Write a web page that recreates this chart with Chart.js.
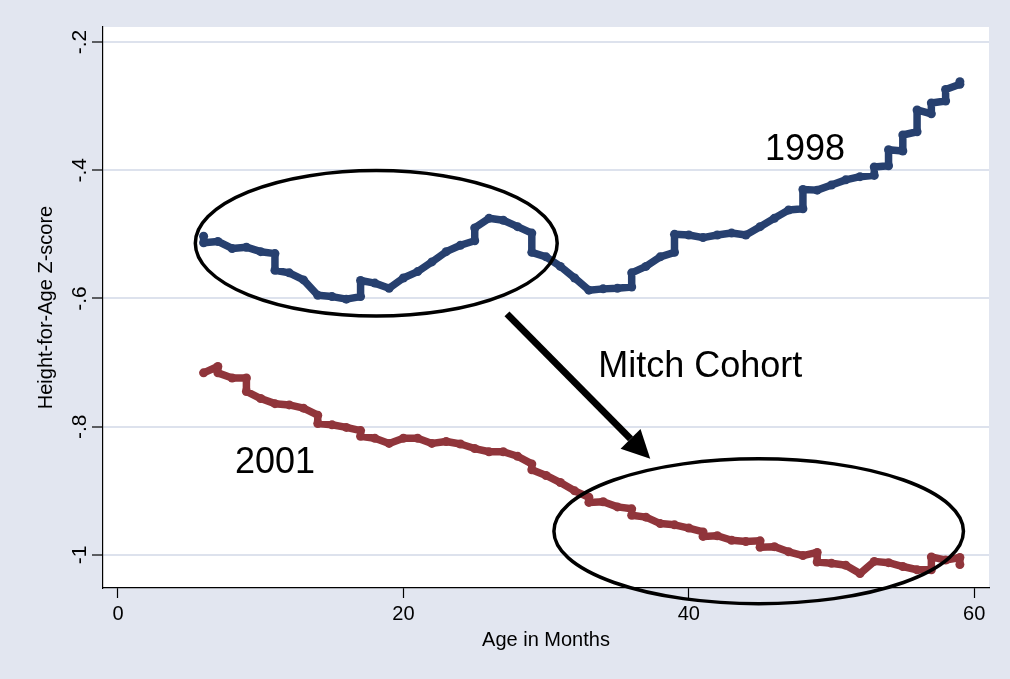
<!DOCTYPE html>
<html>
<head>
<meta charset="utf-8">
<script src="https://cdn.jsdelivr.net/npm/chart.js@4.4.1/dist/chart.umd.min.js"></script>
<style>
    html, body { margin: 0; padding: 0; background: #e2e6f0; }
    #wrap { width: 1010px; height: 679px; }
</style>
</head>
<body>
<div id="wrap"><canvas id="hfaChart" width="1010" height="679"></canvas></div>
<script>
// --- Data ---
// repeated ages give the short vertical steps seen in the original lines
const ages1998 = [6, 6, 7, 8, 9, 10, 11, 11, 12, 13, 14, 15, 16, 17, 17, 18, 19, 20, 21, 22, 23, 24, 25, 25, 26, 27, 28, 29, 29, 30, 31, 32, 33, 34, 35, 36, 36, 37, 38, 39, 39, 40, 41, 42, 43, 44, 45, 46, 47, 48, 48, 49, 50, 51, 52, 53, 53, 54, 54, 55, 55, 56, 56, 57, 57, 58, 58, 59, 59];
const z1998 = [-0.503, -0.513, -0.511, -0.522, -0.520, -0.527, -0.530, -0.556, -0.560, -0.571, -0.595, -0.597, -0.601, -0.597, -0.572, -0.576, -0.584, -0.568, -0.558, -0.543, -0.527, -0.517, -0.510, -0.490, -0.475, -0.478, -0.488, -0.498, -0.528, -0.535, -0.550, -0.568, -0.587, -0.585, -0.584, -0.582, -0.560, -0.550, -0.535, -0.528, -0.500, -0.501, -0.505, -0.501, -0.498, -0.501, -0.488, -0.475, -0.462, -0.460, -0.430, -0.431, -0.423, -0.415, -0.410, -0.408, -0.395, -0.393, -0.368, -0.370, -0.345, -0.340, -0.306, -0.312, -0.295, -0.292, -0.274, -0.266, -0.262];

const ages2001 = [6, 7, 7, 8, 9, 9, 10, 11, 12, 13, 14, 14, 15, 16, 17, 17, 18, 19, 20, 21, 22, 23, 24, 25, 26, 27, 28, 29, 29, 30, 31, 32, 33, 33, 34, 35, 36, 36, 37, 38, 39, 40, 41, 41, 42, 43, 44, 45, 45, 46, 47, 48, 49, 49, 50, 51, 52, 53, 54, 55, 56, 57, 57, 58, 59, 59];
const z2001 = [-0.716, -0.706, -0.716, -0.724, -0.724, -0.745, -0.756, -0.764, -0.766, -0.771, -0.782, -0.795, -0.797, -0.801, -0.806, -0.815, -0.818, -0.826, -0.818, -0.818, -0.826, -0.823, -0.827, -0.834, -0.839, -0.839, -0.846, -0.858, -0.867, -0.876, -0.887, -0.900, -0.910, -0.918, -0.917, -0.925, -0.928, -0.938, -0.941, -0.951, -0.953, -0.958, -0.964, -0.971, -0.970, -0.977, -0.979, -0.978, -0.988, -0.987, -0.995, -1.001, -0.996, -1.011, -1.013, -1.016, -1.029, -1.010, -1.012, -1.018, -1.023, -1.023, -1.003, -1.008, -1.004, -1.015];

const xTicks = [0, 20, 40, 60];
const yTicks = [-1, -0.8, -0.6, -0.4, -0.2];
const yTickLabels = ['-1', '-.8', '-.6', '-.4', '-.2'];

// --- Colours / fonts ---
const BG = '#e2e6f0';
const GRID = '#dde2ed';
const NAVY = '#27406f';
const MAROON = '#90353b';
const FONT = '"Liberation Sans", Arial, sans-serif';

function toPoints(xs, ys) {
    return xs.map((x, i) => ({ x: x, y: ys[i] }));
}

// --- Drawing helpers (background, y labels, titles, annotations) ---
const stataLook = {
    id: 'stataLook',
    beforeDraw(chart) {
        const { ctx, chartArea: a } = chart;
        ctx.save();
        ctx.fillStyle = BG;
        ctx.fillRect(0, 0, chart.width, chart.height);
        ctx.fillStyle = '#ffffff';
        ctx.fillRect(a.left, a.top, a.right - a.left, a.bottom - a.top);
        ctx.restore();
    },
    afterDraw(chart) {
        const { ctx, chartArea: a } = chart;
        const xs = chart.scales.x, ys = chart.scales.y;
        const px = v => xs.getPixelForValue(v);
        const py = v => ys.getPixelForValue(v);

        ctx.save();
        ctx.fillStyle = '#000';

        // y tick labels, rotated like Stata
        ctx.font = '21px ' + FONT;
        ctx.textAlign = 'center';
        ctx.textBaseline = 'middle';
        yTicks.forEach((v, i) => {
            ctx.save();
            ctx.translate(80, py(v));
            ctx.rotate(-Math.PI / 2);
            ctx.fillText(yTickLabels[i], 0, 0);
            ctx.restore();
        });

        // axis titles
        ctx.font = '20px ' + FONT;
        ctx.save();
        ctx.translate(46, (a.top + a.bottom) / 2);
        ctx.rotate(-Math.PI / 2);
        ctx.fillText('Height-for-Age Z-score', 0, 0);
        ctx.restore();
        ctx.fillText('Age in Months', (a.left + a.right) / 2, 640);

        // ellipses
        ctx.strokeStyle = '#000';
        ctx.lineWidth = 3.5;
        const ellipse = (cx, cy, rx, ry) => {
            const x0 = px(cx), y0 = py(cy);
            const rpx = Math.abs(px(cx + rx) - x0), rpy = Math.abs(py(cy + ry) - y0);
            ctx.beginPath();
            ctx.ellipse(x0, y0, rpx, rpy, 0, 0, Math.PI * 2);
            ctx.stroke();
        };
        ellipse(18.1, -0.514, 12.68, 0.1135);
        ellipse(44.9, -0.963, 14.35, 0.113);

        // arrow
        const ax0 = px(27.26), ay0 = py(-0.624);
        const ax1 = px(37.3), ay1 = py(-0.85);
        const ang = Math.atan2(ay1 - ay0, ax1 - ax0);
        const headLen = 28, headW = 14;
        const bx = ax1 - headLen * Math.cos(ang), by = ay1 - headLen * Math.sin(ang);
        ctx.lineWidth = 7;
        ctx.beginPath();
        ctx.moveTo(ax0, ay0);
        ctx.lineTo(bx, by);
        ctx.stroke();
        ctx.beginPath();
        ctx.moveTo(ax1, ay1);
        ctx.lineTo(bx + headW * Math.sin(ang), by - headW * Math.cos(ang));
        ctx.lineTo(bx - headW * Math.sin(ang), by + headW * Math.cos(ang));
        ctx.closePath();
        ctx.fill();

        // text labels
        ctx.font = '36px ' + FONT;
        ctx.textBaseline = 'middle';
        ctx.fillText('1998', px(48.15), py(-0.368));
        ctx.fillText('Mitch Cohort', px(40.8), py(-0.707));
        ctx.fillText('2001', px(11.0), py(-0.857));
        ctx.restore();
    }
};

new Chart(document.getElementById('hfaChart'), {
    type: 'scatter',
    data: {
        datasets: [
            {
                label: '1998',
                data: toPoints(ages1998, z1998),
                showLine: true,
                borderColor: NAVY,
                backgroundColor: NAVY,
                borderWidth: 7.5,
                pointRadius: 4.5,
                pointBorderWidth: 0,
                borderJoinStyle: 'round',
                borderCapStyle: 'round'
            },
            {
                label: '2001',
                data: toPoints(ages2001, z2001),
                showLine: true,
                borderColor: MAROON,
                backgroundColor: MAROON,
                borderWidth: 7.5,
                pointRadius: 4.5,
                pointBorderWidth: 0,
                borderJoinStyle: 'round',
                borderCapStyle: 'round'
            }
        ]
    },
    options: {
        responsive: false,
        animation: false,
        devicePixelRatio: 1,
        layout: { padding: { left: 0, right: 21, top: 27, bottom: 0 } },
        plugins: { legend: { display: false }, tooltip: { enabled: false } },
        scales: {
            x: {
                type: 'linear',
                min: -1.05,
                max: 61.04,
                afterBuildTicks: s => { s.ticks = xTicks.map(v => ({ value: v })); },
                afterFit: s => { s.height = 91; },
                grid: { drawOnChartArea: false, drawTicks: true, tickLength: 10, tickColor: '#000', tickWidth: 1.2 },
                border: { display: true, color: '#000', width: 1.2 },
                ticks: { color: '#000', font: { family: FONT, size: 20 }, padding: 4, maxRotation: 0 }
            },
            y: {
                type: 'linear',
                min: -1.0515,
                max: -0.1766,
                afterBuildTicks: s => { s.ticks = yTicks.map(v => ({ value: v })); },
                afterFit: s => { s.width = 103; },
                grid: { color: GRID, lineWidth: 2, drawTicks: true, tickLength: 11, tickColor: '#000', tickWidth: 1.2 },
                border: { display: true, color: '#000', width: 1.2 },
                ticks: { display: false }
            }
        }
    },
    plugins: [stataLook]
});
</script>
</body>
</html>
